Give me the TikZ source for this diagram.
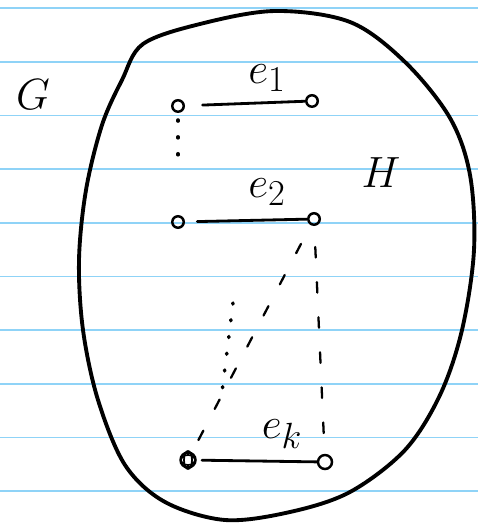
\documentclass[tikz,border=0pt]{standalone}
\usepackage{xcolor}
\usepackage{tikz}
\usetikzlibrary{calc,positioning}
\definecolor{RuleBlue}{HTML}{8FD3F7}
\definecolor{Ink}{HTML}{000000}

\begin{document}
\begin{tikzpicture}[x=0.02cm,y=-0.02cm,
  vertex/.style={draw=Ink,circle,line width=1.4pt,minimum size=0.23cm,inner sep=0pt},
  edge/.style={draw=Ink,line width=1.6pt,line cap=round},
  hint/.style={draw=Ink,line width=1.3pt,line cap=round,dash pattern=on 6pt off 14pt},
  dots/.style={draw=Ink,line width=2pt,line cap=round,dash pattern=on 0.6pt off 9pt},
  lbl/.style={font=\fontsize{28}{30}\selectfont,text=Ink,inner sep=0pt}
]
\fill[white] (0,0) rectangle (478,523);
\useasboundingbox (0,0) rectangle (478,523);
\foreach \k in {0,...,9} \draw[RuleBlue,line width=1pt] (0,8+53.7*\k) -- (478,8+53.7*\k);

% the subgraph H
\draw[Ink,line width=2.2pt] plot[smooth cycle,tension=0.55] coordinates {
  (143,44) (200,24) (275,11) (350,22) (405,62) (450,118) (470,175) (474,250)
  (462,330) (440,395) (405,450) (350,492) (290,512) (225,520) (165,502)
  (125,465) (98,400) (83,330) (79,260) (86,190) (102,125) (122,80)};

\node[lbl,font=\fontsize{42}{46}\selectfont] (gname) at (33,95) {$G$};
\node[lbl,font=\fontsize{36}{40}\selectfont] (hname) at (381,173) {$H$};

% the matching edges
\node[vertex] (v1) at (178,106) {};
\node[vertex] (w1) at (312,101) {};
\node[vertex] (v2) at (178,222) {};
\node[vertex] (w2) at (314,219) {};
\node[vertex,minimum size=0.3cm] (vk) at (188,460) {};
\node[vertex,minimum size=0.28cm] (wk) at (325,462) {};
\draw[Ink,line width=1pt] (vk) ellipse (4 and 9) (vk) ellipse (7 and 5);

\draw[edge,shorten <=10pt] (v1) -- (w1);
\draw[edge,shorten <=7pt] (v2) -- (w2);
\draw[edge,shorten <=3pt] (vk) -- (wk);

\node[lbl] (e1) at (267,78) {$e_1$};
\node[lbl] (e2) at (267,192) {$e_2$};
\node[lbl] (ek) at (282,434) {$e_k$};

% dotted / dashed connections between the edges
\draw[dots,shorten <=4pt,shorten >=26pt] (v1) -- (v2);
\draw[hint,shorten <=12pt,shorten >=6pt] (w2) -- (vk);
\draw[hint,shorten <=12pt,shorten >=8pt] (w2) -- (wk);
\coordinate (d1) at (233,303);
\coordinate (d2) at (222,392);
\draw[dots] (d1) -- (d2);
\end{tikzpicture}
\end{document}
